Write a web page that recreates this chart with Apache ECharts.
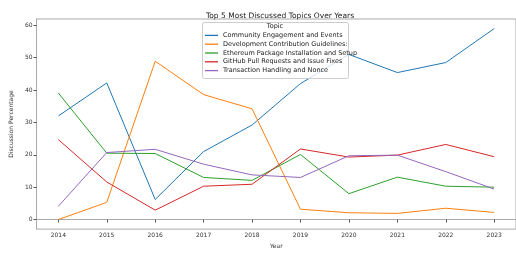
<!DOCTYPE html>
<html><head><meta charset="utf-8">
<script src="https://cdn.jsdelivr.net/npm/echarts@6/dist/echarts.min.js"></script>
<style>html,body{margin:0;padding:0;background:#fff}#c{width:516px;height:254px}</style>
</head><body><div id="c"></div>
<script>
const years = [2014, 2015, 2016, 2017, 2018, 2019, 2020, 2021, 2022, 2023];
const yTicks = [0, 10, 20, 30, 40, 50, 60];
const community = [32.0, 42.2, 6.2, 21.0, 29.2, 42.0, 51.0, 45.4, 48.5, 59.0];
const devGuidelines = [0.0, 5.3, 48.9, 38.6, 34.2, 3.2, 2.1, 1.9, 3.5, 2.2];
const ethPackage = [39.1, 20.5, 20.4, 13.0, 12.1, 20.1, 8.0, 13.1, 10.3, 10.0];
const githubPR = [24.7, 11.6, 2.9, 10.3, 10.9, 21.8, 19.3, 19.9, 23.2, 19.4];
const txNonce = [4.1, 20.7, 21.7, 17.1, 13.8, 13.0, 19.7, 19.9, 14.8, 9.4];
const names = ['Community Engagement and Events','Development Contribution Guidelines:','Ethereum Package Installation and Setup','GitHub Pull Requests and Issue Fixes','Transaction Handling and Nonce'];
const colors = ['#1f77b4','#ff7f0e','#2ca02c','#d62728','#9467bd'];
const seriesVals = [community, devGuidelines, ethPackage, githubPR, txNonce];

const font = 'DejaVu Sans';
const chart = echarts.init(document.getElementById('c'), null, {renderer:'canvas'});
chart.setOption({
  animation:false,
  title:{text:'Top 5 Most Discussed Topics Over Years', left:275, top:7, textAlign:'center',
    textStyle:{fontFamily:font,fontSize:7.5,fontWeight:'normal',color:'#222'}},
  grid:{left:33, top:19, width:486, bottom:17, show:true, borderColor:'#aaa', borderWidth:1, backgroundColor:'transparent'},
  xAxis:{type:'value', min:2013.55, max:2023.45, name:'Year', nameLocation:'middle', nameGap:13,
    nameTextStyle:{fontFamily:font,fontSize:6,color:'#333'},
    axisLine:{lineStyle:{color:'#aaa',width:1}},
    axisTick:{show:true,length:3,lineStyle:{color:'#555'},customValues:years},
    axisLabel:{fontFamily:font,fontSize:6,color:'#333',margin:3,customValues:years,formatter:v=>String(v)},
    splitLine:{show:false}},
  yAxis:{type:'value', min:-2.95, max:61.95, name:'Discussion Percentage', nameLocation:'middle', nameGap:18,
    nameTextStyle:{fontFamily:font,fontSize:6,color:'#333'},
    axisLine:{show:true,lineStyle:{color:'#aaa',width:1}},
    axisTick:{show:true,length:3,lineStyle:{color:'#555'},customValues:yTicks},
    axisLabel:{fontFamily:font,fontSize:6,color:'#333',margin:4,customValues:yTicks},
    splitLine:{show:false}},
  legend:{orient:'vertical', left:205, top:31, padding:0, itemGap:0, itemWidth:13, itemHeight:1.3, icon:'rect', z:10,
    textStyle:{fontFamily:font,fontSize:6.5,color:'#222',lineHeight:8.8}, data:names},
  graphic:[
    {type:'rect', z:5, shape:{x:202.5,y:22.5,width:146,height:56,r:2}, style:{fill:'rgba(255,255,255,0.8)',stroke:'#ccc',lineWidth:1}},
    {type:'text', z:6, x:275, y:23, style:{text:'Topic',fontFamily:font,fontSize:6.5,fill:'#222',textAlign:'center'}}
  ],
  series: names.map((n,i)=>({name:n, type:'line', data:years.map((y,j)=>[y, seriesVals[i][j]]), showSymbol:false, symbol:'none',
    lineStyle:{width:1,color:colors[i]}, itemStyle:{color:colors[i]}, z:2}))
});
</script></body></html>
